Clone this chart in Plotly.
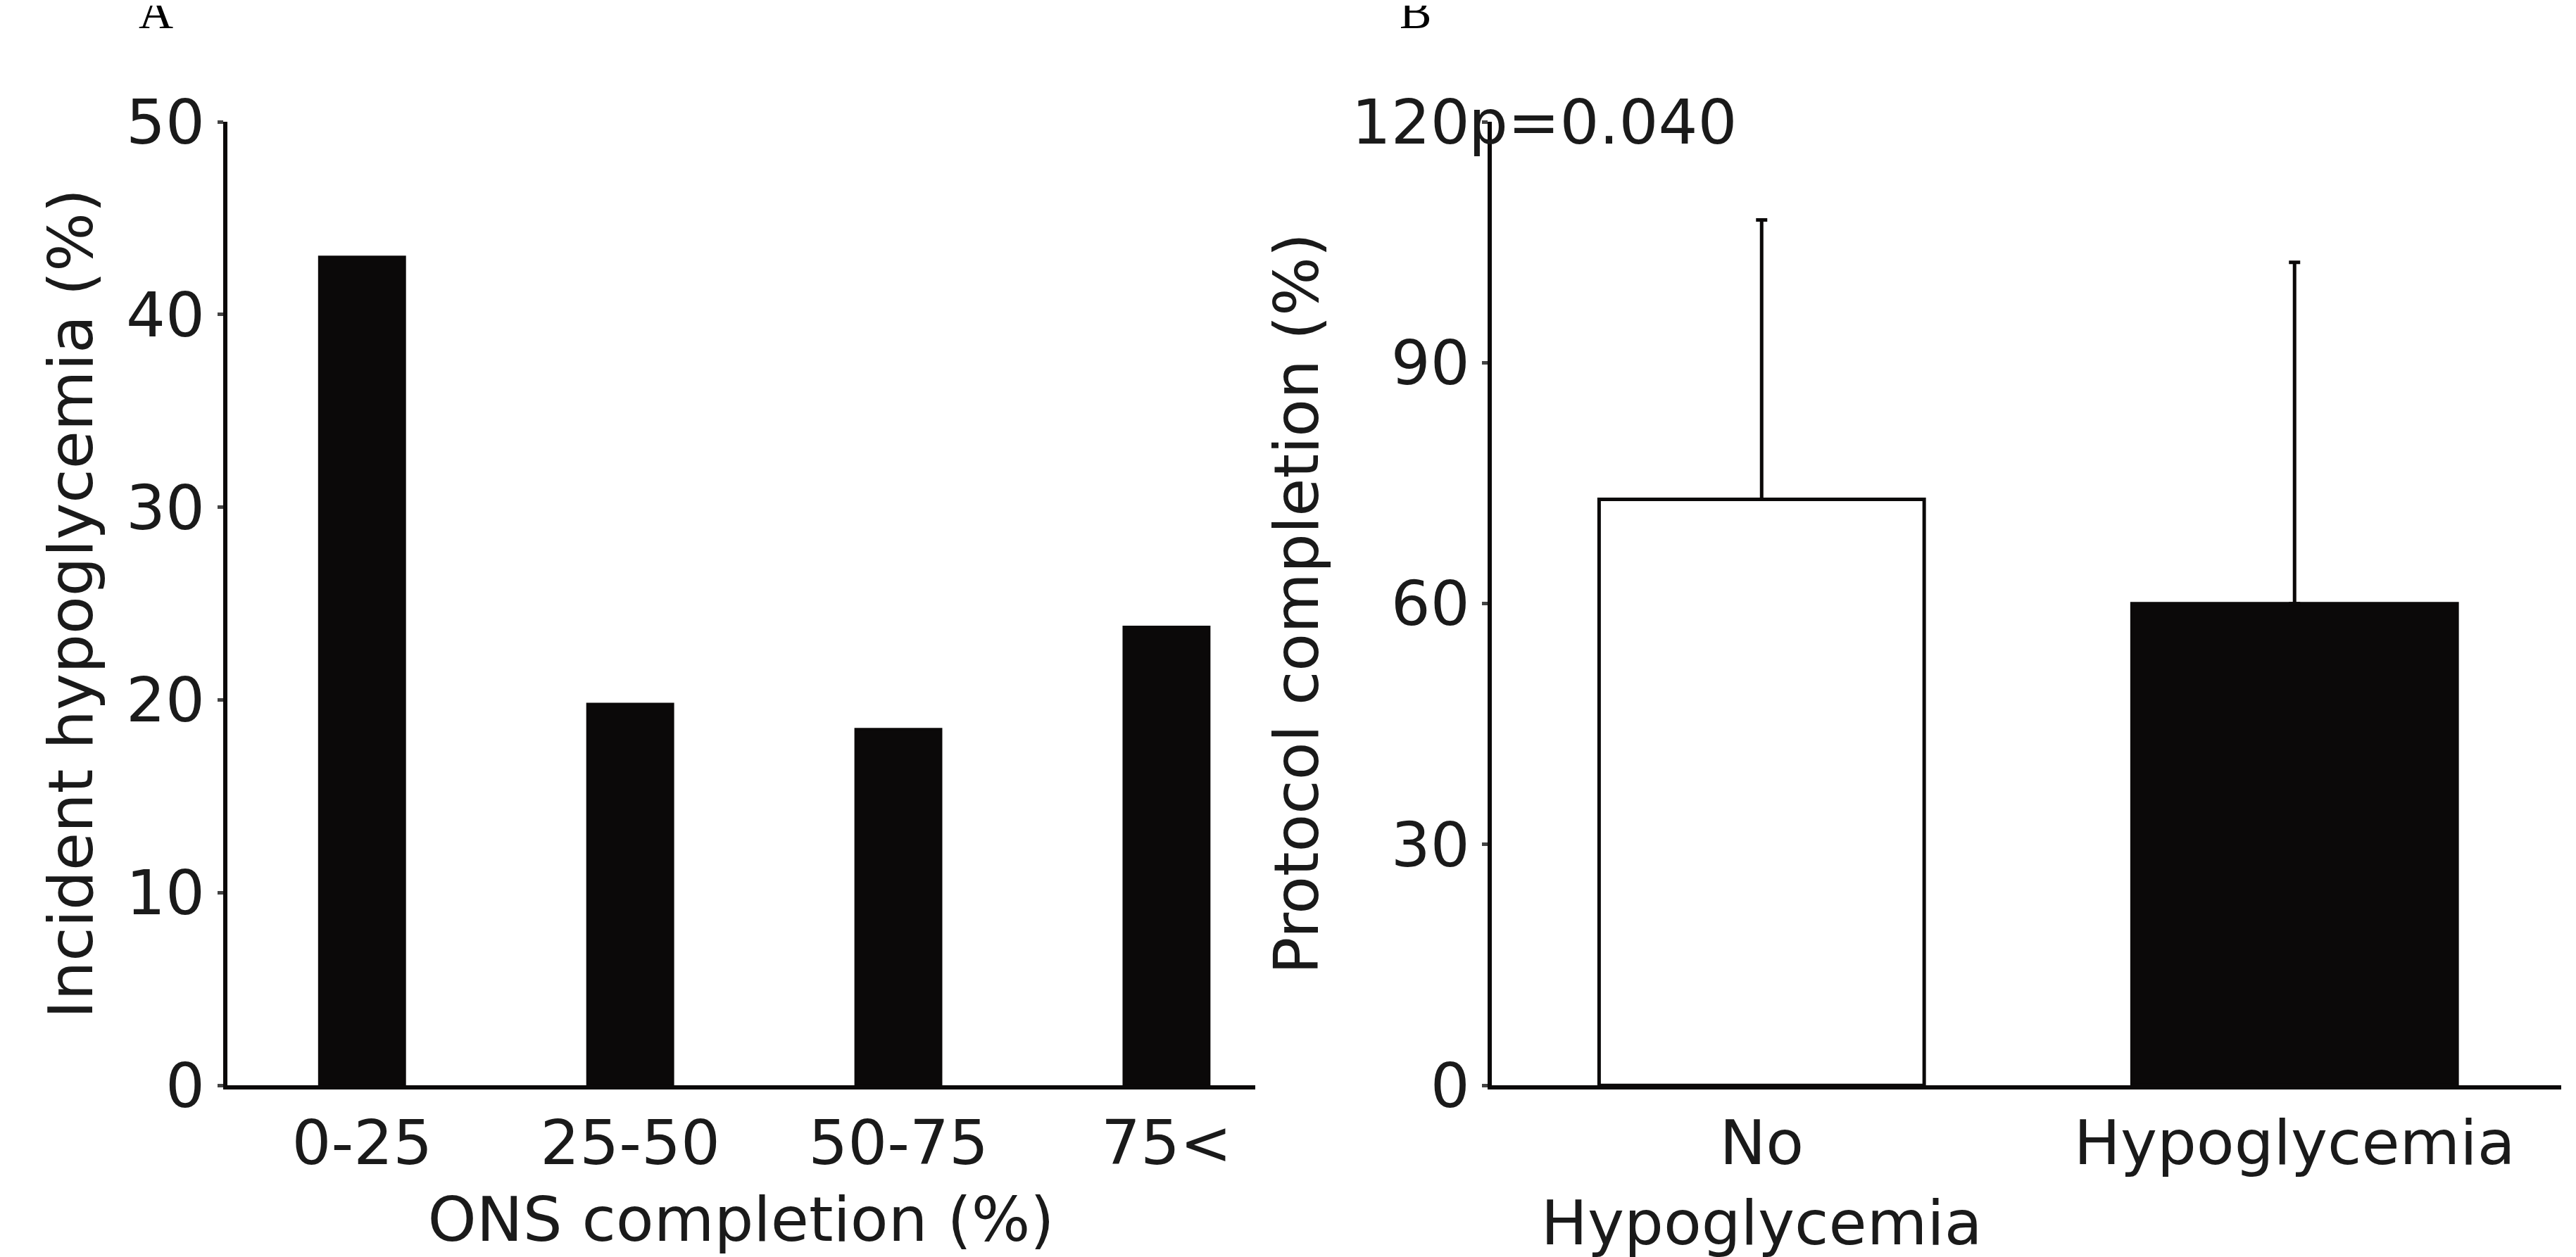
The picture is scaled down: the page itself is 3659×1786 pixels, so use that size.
import plotly.graph_objects as go

cats_a = ["0-25", "25-50", "50-75", "75<"]
vals_a = [43.0, 19.8, 18.5, 23.8]
cats_b = ["No<br>Hypoglycemia", "Hypoglycemia"]
vals_b = [73.0, 60.0]
err_b = [34.8, 42.5]
colors_b = ["white", "#0b0909"]

F = "DejaVu Sans"
FS = 88
fig = go.Figure()
fig.add_trace(go.Bar(x=list(range(4)), y=vals_a, width=0.32, marker=dict(color="#0b0909", line=dict(color="#0b0909", width=3)),
                     xaxis="x", yaxis="y"))
fig.add_trace(go.Bar(x=list(range(2)), y=vals_b, width=0.61,
                     marker=dict(color=colors_b, line=dict(color="#0b0909", width=5)),
                     error_y=dict(type="data", symmetric=False, array=err_b, arrayminus=[0, 0],
                                  color="#0b0909", thickness=5, width=8),
                     xaxis="x2", yaxis="y2"))
ax = dict(showline=True, linecolor="#0b0909", linewidth=6, showgrid=False, zeroline=False, automargin=False,
          tickfont=dict(family=F, size=FS, color="#1a1a1a"))
yb, yt = 0.141, 0.9075
fig.update_layout(
    width=3659, height=1786, showlegend=False, plot_bgcolor="white", paper_bgcolor="white",
    margin=dict(l=0, r=0, t=0, b=0),
    xaxis=dict(ax, domain=[0.086, 0.485], range=[-0.503, 3.33], tickvals=list(range(4)), ticktext=cats_a,
               ticks="", title=dict(text="ONS completion (%)", font=dict(family=F, size=FS, color="#1a1a1a"), standoff=30)),
    yaxis=dict(ax, domain=[yb, yt], range=[0, 50], tickvals=[0, 10, 20, 30, 40, 50], ticks="outside",
               ticklen=8, tickwidth=5, anchor="x",
               title=dict(text="Incident hypoglycemia (%)", font=dict(family=F, size=FS, color="#1a1a1a"), standoff=20)),
    xaxis2=dict(ax, domain=[0.577, 0.992], range=[-0.506, 1.5], tickvals=[0, 1], ticktext=cats_b, ticks="",
                anchor="y2"),
    yaxis2=dict(ax, domain=[yb, yt], range=[0, 120], tickvals=[0, 30, 60, 90, 120], ticks="outside",
                ticklen=8, tickwidth=5, anchor="x2",
                title=dict(text="Protocol completion (%)", font=dict(family=F, size=FS, color="#1a1a1a"), standoff=20)),
    annotations=[
        dict(text="A", x=80/1568, y=0.995, xref="paper", yref="paper", showarrow=False, yanchor="middle",
             font=dict(family="Liberation Serif", size=68, color="black")),
        dict(text="B", x=858/1568, y=0.995, xref="paper", yref="paper", showarrow=False, yanchor="middle",
             font=dict(family="Liberation Serif", size=68, color="black")),
        dict(text="p=0.040", x=1055/1568, y=yt, xref="paper", yref="paper", showarrow=False, yanchor="middle",
             font=dict(family=F, size=FS, color="#1a1a1a")),
    ],
)
fig.write_html("out.html")
